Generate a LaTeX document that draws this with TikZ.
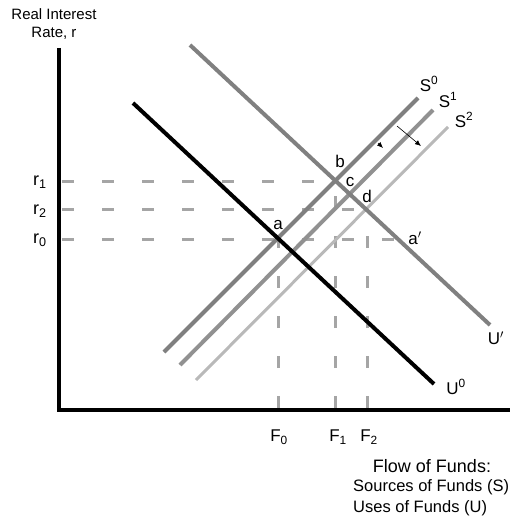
\documentclass[tikz,border=0pt]{standalone}
\usepackage{fontspec}
\setmainfont{Liberation Sans}
\usetikzlibrary{arrows.meta,positioning}
\definecolor{curvegray}{RGB}{128,128,128}
\definecolor{shiftgray}{RGB}{145,145,145}
\definecolor{lightgray}{RGB}{185,185,185}
\definecolor{guidegray}{RGB}{165,165,165}

\begin{document}
\begin{tikzpicture}[x=1pt, y=-1pt, node distance=4pt,
  every node/.style={font=\fontsize{17}{21}\selectfont, inner sep=1pt},
  axisline/.style={line width=4pt, black},
  guide/.style={line width=3pt, guidegray, dash pattern=on 12pt off 28pt},
  ucurve/.style={line width=4pt},
  scurve/.style={line width=4pt, curvegray}]
\useasboundingbox (0,0) rectangle (515,519);

% axes
\coordinate (origin) at (59,410);
\coordinate (ytop) at (59,48);
\coordinate (xend) at (510,410);
\draw [axisline] (ytop) -- (origin) -- (xend);

% equilibrium points
\coordinate (pa) at (278,239);
\coordinate (pb) at (335,181);
\coordinate (pc) at (350,195);
\coordinate (pd) at (367,209);
\coordinate (pa2) at (398,239);

% guides to the axes
\coordinate (r1ax) at (62,181);
\coordinate (r2ax) at (62,209);
\coordinate (r0ax) at (62,239);
\coordinate (f0ax) at (278,408);
\coordinate (f1ax) at (335,408);
\coordinate (f2ax) at (367,408);
\draw [guide] (r1ax) -- (pb);
\draw [guide] (r2ax) -- (pd);
\draw [guide] (r0ax) -- (pa2);
\draw [guide] (f0ax) -- (pa);
\draw [guide] (f1ax) -- (pb);
\draw [guide] (f2ax) -- (pd);

% supply curves
\coordinate (s0lo) at (164,352);
\coordinate (s0hi) at (418,98);
\coordinate (s1lo) at (180,365);
\coordinate (s1hi) at (433,110);
\coordinate (s2lo) at (196,380);
\coordinate (s2hi) at (448,127);
\draw [scurve] (s0lo) -- (s0hi);
\draw [scurve, shiftgray] (s1lo) -- (s1hi);
\draw [scurve, lightgray, line width=3pt] (s2lo) -- (s2hi);

% uses curves
\coordinate (u0hi) at (133,103);
\coordinate (u0lo) at (434,384);
\coordinate (u1hi) at (190,45);
\coordinate (u1lo) at (490,325);
\draw [ucurve, curvegray] (u1hi) -- (u1lo);
\draw [ucurve, black] (u0hi) -- (u0lo);

% shift arrows
\coordinate (sh1a) at (397,126);
\coordinate (sh1b) at (421,146);
\coordinate (sh2a) at (378,143);
\coordinate (sh2b) at (383,148);
\draw [-{Latex[length=6pt,width=5pt]}, line width=0.6pt] (sh1a) -- (sh1b);
\draw [-{Latex[length=6pt,width=5pt]}, line width=0.6pt] (sh2a) -- (sh2b);

% point labels
\node (a) [above=8pt of pa] {a};
\node (b) at (340,161) {b};
\node (c) at (350,182) {c};
\node (d) at (367,196) {d};
\node (a2) at (415,238) {a$'$};

% curve labels
\node (S0) at (429,84) {S\textsuperscript{0}};
\node (S1) at (448,100) {S\textsuperscript{1}};
\node (S2) at (464,120) {S\textsuperscript{2}};
\node (U1) at (496,338) {U$'$};
\node (U0) at (456,387) {U\textsuperscript{0}};

% axis labels
\node (r1) [font=\fontsize{18}{21}\selectfont] at (40,182) {r\textsubscript{1}};
\node (r2) [font=\fontsize{18}{21}\selectfont] at (40,211) {r\textsubscript{2}};
\node (r0) [font=\fontsize{18}{21}\selectfont] at (40,240) {r\textsubscript{0}};
\node (F0) at (279,437) {F\textsubscript{0}};
\node (F1) at (338,437) {F\textsubscript{1}};
\node (F2) at (369,437) {F\textsubscript{2}};
\node (ylabel) [align=center, font=\fontsize{15}{18}\selectfont] at (54,24) {Real Interest\\Rate, r};
\node (flow) [font=\fontsize{18}{21}\selectfont] at (432,466) {Flow of Funds:};
\node (flowuses) [anchor=west, align=left, font=\fontsize{16.5}{21}\selectfont] at (352,498) {Sources of Funds (S)\\Uses of Funds (U)};
\end{tikzpicture}
\end{document}
